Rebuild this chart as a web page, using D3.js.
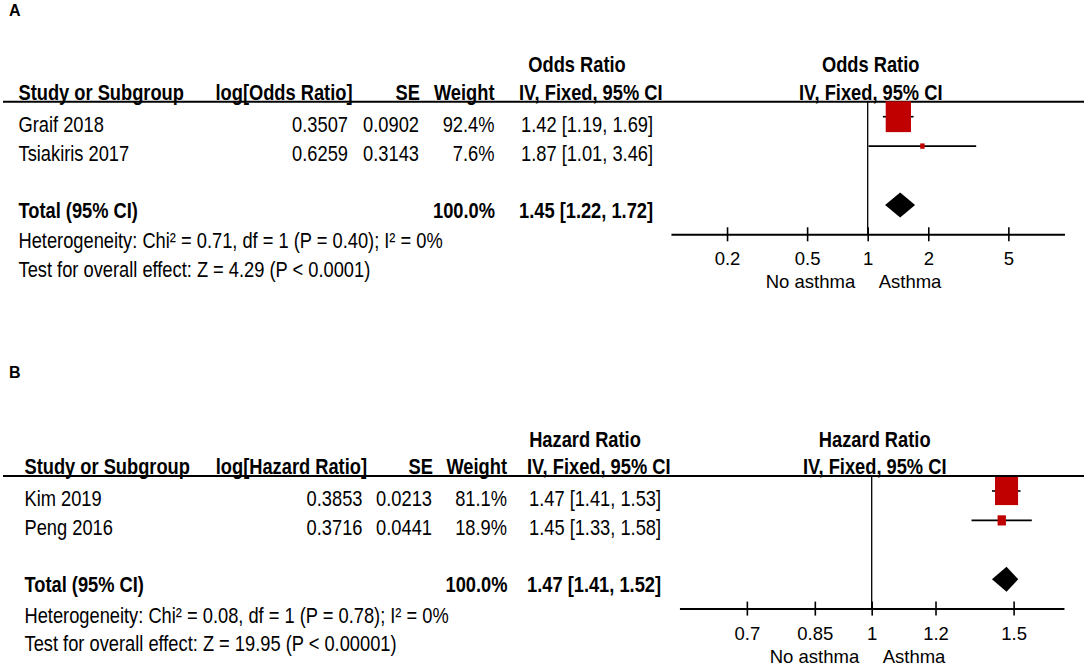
<!DOCTYPE html>
<html>
<head>
<meta charset="utf-8">
<script src="https://cdn.jsdelivr.net/npm/d3@7"></script>
<style>
  body { margin: 0; background: #fff; }
  svg { display: block; background: #fff; }
</style>
</head>
<body>
<svg id="chart" width="1084" height="668"></svg>
<script>
// Panel A: odds ratio
const studiesA = ["Graif 2018", "Tsiakiris 2017"];
const logA = [0.3507, 0.6259];
const seA = [0.0902, 0.3143];
const weightA = [92.4, 7.6];
const estA = [1.42, 1.87];
const lowA = [1.19, 1.01];
const highA = [1.69, 3.46];
const totalA = [1.45, 1.22, 1.72]; // estimat, nedre, øvre
const footA = [
  "Heterogeneity: Chi² = 0.71, df = 1 (P = 0.40); I² = 0%",
  "Test for overall effect: Z = 4.29 (P < 0.0001)"
];
const ticksA = [0.2, 0.5, 1, 2, 5];

// Panel B: hazard ratio
const studiesB = ["Kim 2019", "Peng 2016"];
const logB = [0.3853, 0.3716];
const seB = [0.0213, 0.0441];
const weightB = [81.1, 18.9];
const estB = [1.47, 1.45];
const lowB = [1.41, 1.33];
const highB = [1.53, 1.58];
const totalB = [1.47, 1.41, 1.52];
const footB = [
  "Heterogeneity: Chi² = 0.08, df = 1 (P = 0.78); I² = 0%",
  "Test for overall effect: Z = 19.95 (P < 0.00001)"
];
const ticksB = [0.7, 0.85, 1, 1.2, 1.5];

const svg = d3.select("#chart");
const NARROW = "'Liberation Sans Narrow','Arial Narrow'";
const REGULAR = "'Liberation Sans', Arial, sans-serif";
const FS = 22.3; // tabel-skrift

// tjekker om den smalle skrift findes, ellers presses almindelig skrift sammen
const probe = svg.append("text").style("font-family", NARROW + ", monospace").style("font-size", "40px").text("Graif 2018 Study");
const probe2 = svg.append("text").style("font-family", REGULAR).style("font-size", "40px").text("Graif 2018 Study");
const ratio = probe.node().getComputedTextLength() / probe2.node().getComputedTextLength();
probe.remove(); probe2.remove();
const haveNarrow = ratio < 0.9 && ratio > 0.7;
const tableFont = haveNarrow ? NARROW + ", sans-serif" : REGULAR;
const squeeze = haveNarrow ? 1 : 0.82;

// hjælpefunktion til tabeltekst
function txt(g, x, y, s, anchor, bold) {
  return g.append("text")
    .attr("transform", `translate(${x},${y}) scale(${squeeze},1)`)
    .attr("text-anchor", anchor || "start")
    .style("font-family", tableFont)
    .style("font-size", FS + "px")
    .style("font-weight", bold ? "bold" : "normal")
    .attr("fill", "#000")
    .text(s);
}

const f4 = d3.format(".4f");
const f2 = d3.format(".2f");
const fw = (d) => d3.format(".1f")(d) + "%";
const ci = (e, l, h) => `${f2(e)} [${f2(l)}, ${f2(h)}]`;

// størrelse på firkanterne ud fra vægten
const sizeScale = d3.scalePow().exponent(0.7).domain([0, 100]).range([0, 26.7]);

function drawPanel(p) {
  const g = svg.append("g");
  const lineY = p.lineY;
  // rækkernes y-positioner (0,1 = studier, 3 = total, 4-5 = fodnoter)
  const rowY = d3.scaleLinear().domain([0, 1]).range([lineY + 15, lineY + 44.4]);
  const axisY = lineY + 132.6;

  // x-skala (log) for plottet
  const half = p.pxPerLn * Math.log(p.ext);
  const x = d3.scaleLog().domain([1 / p.ext, p.ext]).range([p.center - half, p.center + half]);

  // panel bogstav
  g.append("text")
    .attr("x", 9).attr("y", p.labelY)
    .style("font-family", REGULAR).style("font-size", "16px").style("font-weight", "bold")
    .text(p.label);

  // overskrifter
  txt(g, p.ciX + 56, lineY - 29.3, p.measure, "middle", true);
  txt(g, p.center + 3, lineY - 29.3, p.measure, "middle", true);
  txt(g, p.textX, lineY - 2, "Study or Subgroup", "start", true);
  txt(g, p.logX + 4.5, lineY - 2, p.logHead, "end", true);
  txt(g, p.seX + 1, lineY - 2, "SE", "end", true);
  txt(g, p.wX, lineY - 2, "Weight", "end", true);
  txt(g, p.ciX - 2, lineY - 2, "IV, Fixed, 95% CI", "start", true);
  txt(g, p.center + 3, lineY - 2, "IV, Fixed, 95% CI", "middle", true);

  g.append("line")
    .attr("x1", 3).attr("x2", 1084)
    .attr("y1", lineY).attr("y2", lineY)
    .attr("stroke", "#000").attr("stroke-width", 2);

  // studierækker
  p.studies.forEach((s, i) => {
    const yb = rowY(i) + 15;
    txt(g, p.textX, yb, s);
    txt(g, p.logX, yb, f4(p.logv[i]), "end");
    txt(g, p.seX, yb, f4(p.se[i]), "end");
    txt(g, p.wX, yb, fw(p.w[i]), "end");
    txt(g, p.ciX, yb, ci(p.est[i], p.lo[i], p.hi[i]));
  });

  // total
  const yt = rowY(3) + 13;
  txt(g, p.textX, yt, "Total (95% CI)", "start", true);
  txt(g, p.wX + 0.5, yt, fw(100), "end", true);
  txt(g, p.ciX - 2, yt, ci(p.total[0], p.total[1], p.total[2]), "start", true);
  txt(g, p.textX, rowY(4) + 14, p.foot[0]);
  txt(g, p.textX, rowY(5) + 13, p.foot[1]);

  // linje ved 1
  g.append("line")
    .attr("x1", x(1)).attr("x2", x(1))
    .attr("y1", lineY).attr("y2", axisY)
    .attr("stroke", "#000").attr("stroke-width", 1.3);

  // akse
  const ax = g.append("g")
    .attr("transform", `translate(0,${axisY})`)
    .call(d3.axisBottom(x).tickValues(p.ticks).tickFormat((d) => String(d)).tickSizeOuter(0).tickSizeInner(7));
  ax.select(".domain").attr("stroke", "#000").attr("stroke-width", 2);
  ax.selectAll(".tick line").attr("y1", -7).attr("y2", 7).attr("stroke", "#000").attr("stroke-width", 1.6);
  ax.selectAll(".tick text")
    .attr("y", 31).attr("dy", null)
    .attr("fill", "#000")
    .style("font-family", REGULAR).style("font-size", "18.5px");

  g.append("text")
    .attr("x", x(1) - 12.5).attr("y", axisY + 54)
    .attr("text-anchor", "end")
    .style("font-family", REGULAR).style("font-size", "18.5px")
    .text("No asthma");
  g.append("text")
    .attr("x", x(1) + 11).attr("y", axisY + 54)
    .style("font-family", REGULAR).style("font-size", "18.5px")
    .text("Asthma");

  // konfidensintervaller
  g.selectAll(".whisker")
    .data(p.studies)
    .join("line")
    .attr("x1", (d, i) => x(p.lo[i]))
    .attr("x2", (d, i) => x(p.hi[i]))
    .attr("y1", (d, i) => rowY(i))
    .attr("y2", (d, i) => rowY(i))
    .attr("stroke", "#000").attr("stroke-width", 1.6);

  // vægt-firkanter
  g.selectAll(".sq")
    .data(p.studies)
    .join("rect")
    .attr("x", (d, i) => x(p.est[i]) - sizeScale(p.w[i]) / 2)
    .attr("y", (d, i) => rowY(i) - sizeScale(p.w[i]) * 1.22 / 2)
    .attr("width", (d, i) => sizeScale(p.w[i]))
    .attr("height", (d, i) => sizeScale(p.w[i]) * 1.22)
    .attr("fill", "#c00000");

  // diamant for total
  const yd = rowY(3);
  g.append("path")
    .attr("d", d3.line()([
      [x(p.total[1]), yd],
      [x(p.total[0]), yd - 12.5],
      [x(p.total[2]), yd],
      [x(p.total[0]), yd + 12.5]
    ]) + "Z")
    .attr("fill", "#000");
}

drawPanel({
  label: "A", labelY: 16, lineY: 101.7,
  measure: "Odds Ratio", logHead: "log[Odds Ratio]",
  textX: 18.5, logX: 348, seX: 419, wX: 494.5, ciX: 521,
  center: 867.7, pxPerLn: 87.4, ext: 9.5,
  studies: studiesA, logv: logA, se: seA, w: weightA,
  est: estA, lo: lowA, hi: highA, total: totalA,
  foot: footA, ticks: ticksA
});

drawPanel({
  label: "B", labelY: 377.7, lineY: 476,
  measure: "Hazard Ratio", logHead: "log[Hazard Ratio]",
  textX: 24.5, logX: 362.5, seX: 432, wX: 507, ciX: 529,
  center: 871.7, pxPerLn: 350, ext: Math.sqrt(3),
  studies: studiesB, logv: logB, se: seB, w: weightB,
  est: estB, lo: lowB, hi: highB, total: totalB,
  foot: footB, ticks: ticksB
});
</script>
</body>
</html>
